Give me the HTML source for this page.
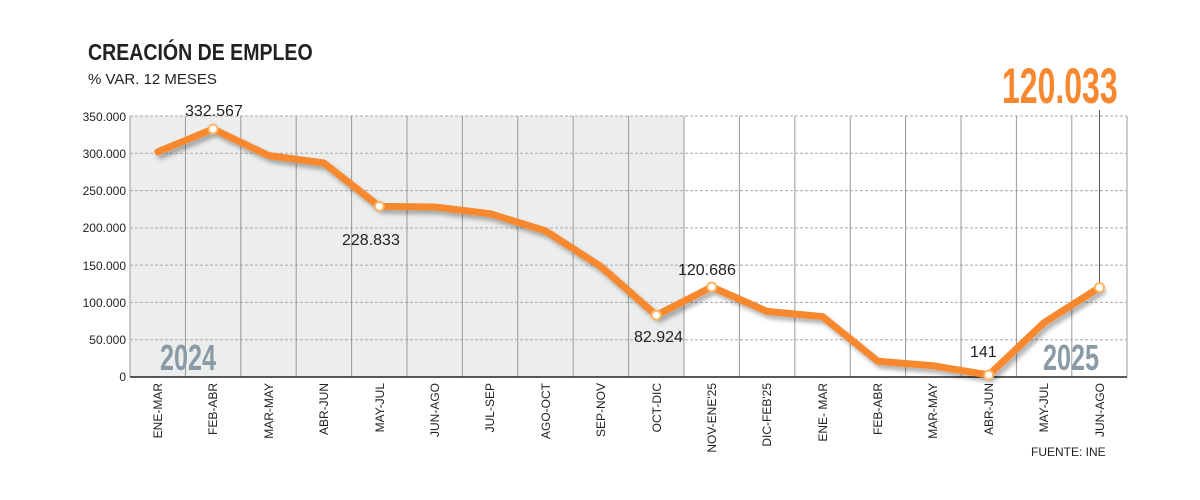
<!DOCTYPE html>
<html><head><meta charset="utf-8"><style>
body{margin:0;background:#fff;}
svg text{font-family:"Liberation Sans",sans-serif;}
</style></head><body>
<svg width="1200" height="495" viewBox="0 0 1200 495">
<defs><filter id="sh" x="-5%" y="-5%" width="110%" height="120%"><feDropShadow dx="3" dy="4" stdDeviation="2" flood-color="#000" flood-opacity="0.3"/></filter></defs>
<text x="88" y="60" font-size="23" font-weight="bold" fill="#222" transform="translate(88 0) scale(0.85 1) translate(-88 0)">CREACIÓN DE EMPLEO</text>
<text x="88" y="84" font-size="15" fill="#222">% VAR. 12 MESES</text>
<rect x="130" y="116" width="554" height="261" fill="#eceeee"/>
<g stroke="#aaa" stroke-dasharray="3,2" stroke-width="1">
<line x1="130" x2="1127" y1="116" y2="116"/><line x1="130" x2="1127" y1="153.3" y2="153.3"/><line x1="130" x2="1127" y1="190.6" y2="190.6"/><line x1="130" x2="1127" y1="227.9" y2="227.9"/><line x1="130" x2="1127" y1="265.1" y2="265.1"/><line x1="130" x2="1127" y1="302.4" y2="302.4"/><line x1="130" x2="1127" y1="339.7" y2="339.7"/>
</g>
<g stroke="#999" stroke-width="1">
<line x1="130" x2="130" y1="116" y2="377"/><line x1="185.4" x2="185.4" y1="116" y2="377"/><line x1="240.8" x2="240.8" y1="116" y2="377"/><line x1="296.2" x2="296.2" y1="116" y2="377"/><line x1="351.6" x2="351.6" y1="116" y2="377"/><line x1="407" x2="407" y1="116" y2="377"/><line x1="462.4" x2="462.4" y1="116" y2="377"/><line x1="517.8" x2="517.8" y1="116" y2="377"/><line x1="573.2" x2="573.2" y1="116" y2="377"/><line x1="628.6" x2="628.6" y1="116" y2="377"/><line x1="684" x2="684" y1="116" y2="377"/><line x1="739.4" x2="739.4" y1="116" y2="377"/><line x1="794.8" x2="794.8" y1="116" y2="377"/><line x1="850.2" x2="850.2" y1="116" y2="377"/><line x1="905.6" x2="905.6" y1="116" y2="377"/><line x1="961" x2="961" y1="116" y2="377"/><line x1="1016.4" x2="1016.4" y1="116" y2="377"/><line x1="1071.8" x2="1071.8" y1="116" y2="377"/><line x1="1127" x2="1127" y1="116" y2="377"/>
</g>
<line x1="130" x2="1127" y1="377" y2="377" stroke="#222" stroke-width="1.5"/>
<g font-size="12" fill="#222" text-anchor="end">
<text x="126" y="121">350.000</text><text x="126" y="158">300.000</text><text x="126" y="195">250.000</text><text x="126" y="232">200.000</text><text x="126" y="270">150.000</text><text x="126" y="307">100.000</text><text x="126" y="344">50.000</text><text x="126" y="381">0</text>
</g>
<text x="160" y="370" font-size="36" font-weight="bold" fill="#8a9ba6" transform="translate(160 0) scale(0.7 1) translate(-160 0)">2024</text>
<text x="1043" y="370" font-size="36" font-weight="bold" fill="#8a9ba6" transform="translate(1043 0) scale(0.7 1) translate(-1043 0)">2025</text>
<line x1="1099.5" y1="110" x2="1099.5" y2="287" stroke="#555" stroke-width="1"/>
<polyline filter="url(#sh)" fill="none" stroke="#f7882f" stroke-width="7" stroke-linejoin="round" stroke-linecap="round" points="157.7,151.8 213.1,129 268.5,155.5 323.9,163 379.3,206.4 434.7,207 490.1,213.7 545.5,230.8 600.9,266.6 656.3,315.2 711.7,287 767.1,311.4 822.5,316.6 877.9,361.3 933.3,365.8 988.7,375 1044.1,322.6 1099.5,287.5"/>
<g fill="#fff" stroke="#fbb562" stroke-width="2">
<circle cx="213.1" cy="129" r="4.5"/><circle cx="379.3" cy="206.4" r="4.5"/><circle cx="656.3" cy="315.2" r="4.5"/><circle cx="711.7" cy="287" r="4.5"/><circle cx="988.7" cy="375" r="4.5"/><circle cx="1099.5" cy="287.5" r="4.5"/>
</g>
<g font-size="16" fill="#222">
<text x="185" y="116">332.567</text><text x="342" y="245">228.833</text><text x="634" y="342">82.924</text><text x="678" y="275">120.686</text><text x="970" y="357">141</text>
</g>
<text x="1002" y="103" font-size="50" font-weight="bold" fill="#f7882f" transform="translate(1002 0) scale(0.64 1) translate(-1002 0)">120.033</text>
<g font-size="12" fill="#222" text-anchor="end">
<text transform="translate(162 383) rotate(-90)">ENE-MAR</text><text transform="translate(217 383) rotate(-90)">FEB-ABR</text><text transform="translate(273 383) rotate(-90)">MAR-MAY</text><text transform="translate(328 383) rotate(-90)">ABR-JUN</text><text transform="translate(384 383) rotate(-90)">MAY-JUL</text><text transform="translate(439 383) rotate(-90)">JUN-AGO</text><text transform="translate(494 383) rotate(-90)">JUL-SEP</text><text transform="translate(550 383) rotate(-90)">AGO-OCT</text><text transform="translate(605 383) rotate(-90)">SEP-NOV</text><text transform="translate(661 383) rotate(-90)">OCT-DIC</text><text transform="translate(716 383) rotate(-90)">NOV-ENE'25</text><text transform="translate(771 383) rotate(-90)">DIC-FEB'25</text><text transform="translate(827 383) rotate(-90)">ENE- MAR</text><text transform="translate(882 383) rotate(-90)">FEB-ABR</text><text transform="translate(937 383) rotate(-90)">MAR-MAY</text><text transform="translate(993 383) rotate(-90)">ABR-JUN</text><text transform="translate(1048 383) rotate(-90)">MAY-JUL</text><text transform="translate(1104 383) rotate(-90)">JUN-AGO</text>
</g>
<text x="1031" y="456" font-size="12" fill="#222">FUENTE: INE</text>
</svg>
</body></html>
